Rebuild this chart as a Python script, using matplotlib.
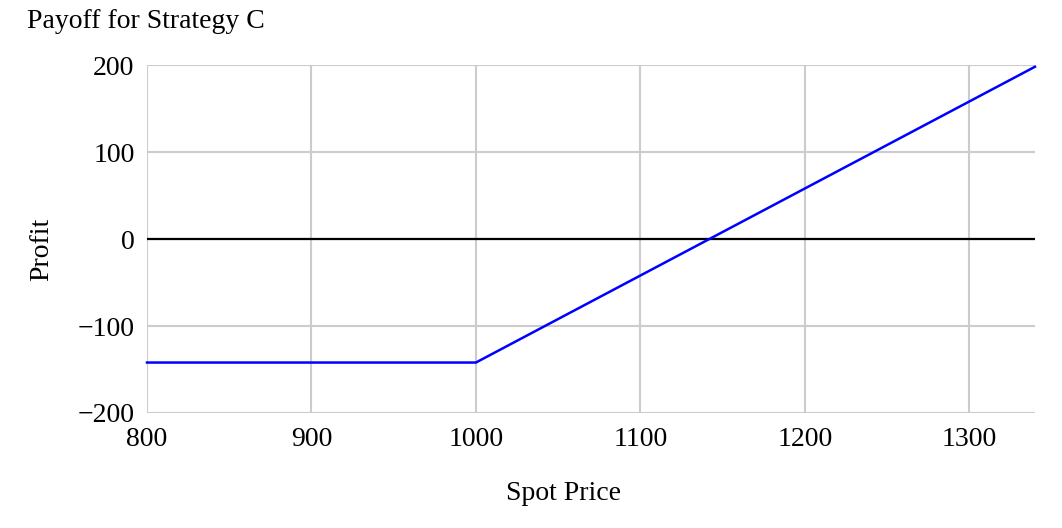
import numpy as np
import matplotlib
matplotlib.use('Agg')
import matplotlib.pyplot as plt

# Payoff data
spot = [800, 1000, 1340]
profit = [-142, -142, 198]
x_ticks = [800, 900, 1000, 1100, 1200, 1300]
y_ticks = [-200, -100, 0, 100, 200]

plt.rcParams['font.family'] = ['Liberation Serif', 'DejaVu Serif']
plt.rcParams['font.size'] = 20

fig = plt.figure(figsize=(10.62, 5.28), dpi=100)
ax = fig.add_axes([147/1062, 1 - 413/528, (1035-147)/1062, (413-65)/528])

ax.set_xlim(800, 1340)
ax.set_ylim(-200, 200)
ax.set_xticks(x_ticks)
ax.set_yticks(y_ticks)
ax.set_yticklabels(['\u2212200', '\u2212100', '0', '100', '200'])
ax.grid(True, color='#cccccc', linewidth=1.5)
ax.set_axisbelow(True)
for s in ax.spines.values():
    s.set_visible(False)
ax.tick_params(length=0)
ax.tick_params(axis='y', pad=9)
ax.tick_params(axis='x', pad=10)

ax.axhline(0, color='black', linewidth=1.6)
ax.plot(spot, profit, color='#0000ff', linewidth=1.8, clip_on=False)

fig.text(27/1062, 1 - 22/528, 'Payoff for Strategy C', ha='left', va='center')
fig.text(42/1062, 1 - 249/528, 'Profit', rotation=90, ha='center', va='center')
fig.text(563/1062, 1 - 493/528, 'Spot Price', ha='center', va='center')

fig.savefig('out.png', dpi=100)
